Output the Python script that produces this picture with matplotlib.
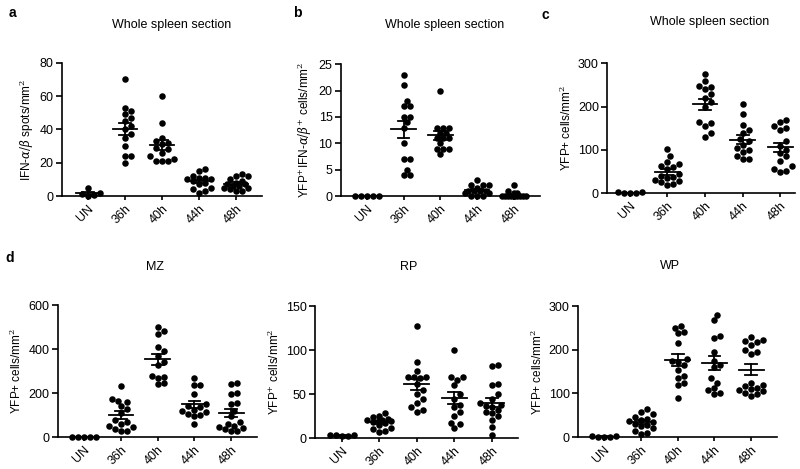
import numpy as np
import matplotlib
matplotlib.use('Agg')
import matplotlib.pyplot as plt

plt.rcParams['font.family'] = ['Liberation Sans', 'DejaVu Sans']
plt.rcParams['mathtext.fontset'] = 'dejavuserif'

groups = ['UN', '36h', '40h', '44h', '48h']

# a - IFN-a/b spots, whole spleen
a_vals = [
    [0, 0.5, 1.5, 2, 5],
    [70, 53, 51, 49, 47, 45, 42, 40, 37, 35, 30, 24, 24, 20],
    [60, 44, 35, 33, 32, 31, 29, 28, 26, 24, 22, 21, 21, 21],
    [16, 15, 12, 11, 11, 10, 10, 9, 8, 7, 5, 4, 3, 2],
    [13, 12, 12, 10, 9, 8, 7, 7, 6, 6, 5, 5, 4, 3, 3],
]
# b - YFP+IFN+ cells, whole spleen
b_vals = [
    [0, 0, 0, 0, 0],
    [23, 21, 18, 17, 17, 15, 15, 14, 13, 10, 7, 7, 5, 4, 4],
    [20, 13, 13, 13, 12, 12, 11, 11, 11, 10, 9, 9, 9, 8],
    [3, 2, 2, 2, 1.5, 1, 1, 1, 1, 0.5, 0, 0, 0, 0.5],
    [2, 1, 0.5, 0, 0, 0, 0, 0, 0, 0, 0, 0, 0.5, 0],
]
# c - YFP+ cells, whole spleen
c_vals = [
    [2, 1, 0, 2, 1],
    [102, 85, 72, 68, 62, 60, 55, 45, 40, 38, 35, 30, 28, 25, 22, 20],
    [275, 260, 248, 245, 240, 230, 220, 210, 200, 165, 162, 155, 140, 130],
    [207, 182, 158, 145, 140, 125, 120, 112, 105, 100, 95, 85, 78, 78],
    [170, 165, 155, 150, 145, 120, 110, 100, 92, 85, 75, 62, 55, 52, 50],
]
# d - MZ / RP / WP
mz_vals = [
    [0, 0, 0, 0, 0],
    [232, 175, 165, 160, 140, 130, 110, 80, 70, 60, 50, 45, 35, 30, 28],
    [500, 485, 470, 410, 390, 370, 340, 330, 280, 275, 270, 245, 240],
    [268, 238, 235, 195, 150, 140, 135, 125, 120, 115, 105, 100, 95, 60],
    [245, 240, 200, 195, 155, 150, 120, 95, 70, 60, 50, 45, 40, 35, 30, 30],
]
rp_vals = [
    [4, 3, 2, 2, 3],
    [28, 25, 24, 22, 21, 20, 20, 19, 18, 17, 15, 12, 10, 8, 7],
    [128, 87, 76, 70, 69, 69, 68, 62, 55, 50, 45, 40, 35, 32, 30],
    [100, 70, 70, 66, 60, 50, 45, 38, 35, 30, 25, 17, 16, 11],
    [83, 82, 62, 60, 50, 45, 40, 38, 37, 35, 32, 30, 28, 25, 20, 13, 4],
]
wp_vals = [
    [2, 1, 0, 1, 2],
    [65, 58, 52, 45, 42, 40, 38, 35, 30, 28, 25, 20, 15, 10, 8],
    [255, 250, 240, 238, 215, 178, 175, 172, 165, 155, 140, 135, 125, 120, 90],
    [280, 268, 232, 228, 195, 175, 165, 160, 135, 125, 112, 108, 102, 98],
    [230, 222, 220, 218, 212, 200, 195, 190, 125, 120, 118, 112, 110, 108, 105, 100, 98, 95],
]

fig = plt.figure(figsize=(8, 4.69), dpi=100)


def swarm(ax, i, vals, diam=6.0, maxoff=14.0):
    # deterministic beeswarm in pixel space, width capped (overlap allowed)
    tr = ax.transData
    order = np.argsort(vals)
    placed = []
    offs = [0.0]
    k = 1
    while k * 0.5 * diam <= maxoff:
        offs += [k * 0.5 * diam, -k * 0.5 * diam]
        k += 1
    res = np.zeros(len(vals))
    for j in order:
        base = tr.transform((i, vals[j]))
        best, bestd = None, -1
        for o in offs:
            px = (base[0] + o, base[1])
            d = min([np.hypot(q[0] - px[0], q[1] - px[1]) for q in placed] + [99])
            if d >= diam:
                best = px
                break
            if d > bestd + 0.5:
                best, bestd = px, d
        placed.append(best)
        res[j] = tr.inverted().transform(best)[0]
    return res


def panel(rect, data, yticks, ylabel, xlim=(-0.7, 4.7)):
    ax = fig.add_axes(rect)
    ax.set_xlim(*xlim)
    ax.set_ylim(0, yticks[-1])
    for i, v in enumerate(data):
        v = np.array(v, dtype=float)
        xs = swarm(ax, i, v)
        ax.scatter(xs, v, s=22, color='black', zorder=3, clip_on=False, linewidths=0)
        m = v.mean()
        sem = v.std(ddof=1) / np.sqrt(len(v))
        ax.plot([i - 0.33, i + 0.33], [m, m], color='black', lw=1.3, zorder=4)
        ax.plot([i, i], [m - sem, m + sem], color='black', lw=1.3, zorder=4)
        for e in (m - sem, m + sem):
            ax.plot([i - 0.16, i + 0.16], [e, e], color='black', lw=1.3, zorder=4)
    ax.set_xticks(range(len(groups)))
    ax.set_xticklabels(groups, rotation=45, ha='right', rotation_mode='anchor')
    ax.set_yticks(yticks)
    ax.spines['top'].set_visible(False)
    ax.spines['right'].set_visible(False)
    for s in ('left', 'bottom'):
        ax.spines[s].set_linewidth(1.2)
    ax.tick_params(labelsize=9, width=1.2, length=4, pad=2)
    ax.tick_params(axis='x', length=3)
    ax.set_ylabel(ylabel, fontsize=8.5, labelpad=3)
    return ax


panel([0.0775, 0.582, 0.25, 0.284], a_vals, [0, 20, 40, 60, 80],
      r'IFN-$\alpha/\beta$ spots/mm$^2$')
panel([0.426, 0.582, 0.249, 0.281], b_vals, [0, 5, 10, 15, 20, 25],
      r'YFP$^{+}$IFN-$\alpha/\beta^{+}$ cells/mm$^2$')
panel([0.759, 0.588, 0.235, 0.277], c_vals, [0, 100, 200, 300],
      r'YFP+ cells/mm$^2$', xlim=(-0.6, 4.4))
panel([0.0725, 0.068, 0.249, 0.281], mz_vals, [0, 200, 400, 600],
      r'YFP+ cells/mm$^2$')
panel([0.394, 0.066, 0.254, 0.281], rp_vals, [0, 50, 100, 150],
      r'YFP$^{+}$ cells/mm$^2$')
panel([0.7225, 0.068, 0.249, 0.279], wp_vals, [0, 100, 200, 300],
      r'YFP+ cells/mm$^2$')

titles = [('Whole spleen section', 172, 25), ('Whole spleen section', 445, 25),
          ('Whole spleen section', 710, 22), ('MZ', 155, 267),
          ('RP', 409, 267), ('WP', 670, 266)]
for t, x, y in titles:
    fig.text(x / 800, 1 - y / 469, t, ha='center', va='center', fontsize=9)

letters = [('a', 12, 13), ('b', 297, 13), ('c', 545, 15), ('d', 10, 258)]
for t, x, y in letters:
    fig.text(x / 800, 1 - y / 469, t, ha='center', va='center', fontsize=10,
             fontweight='bold')

fig.savefig('out.png', dpi=100)
